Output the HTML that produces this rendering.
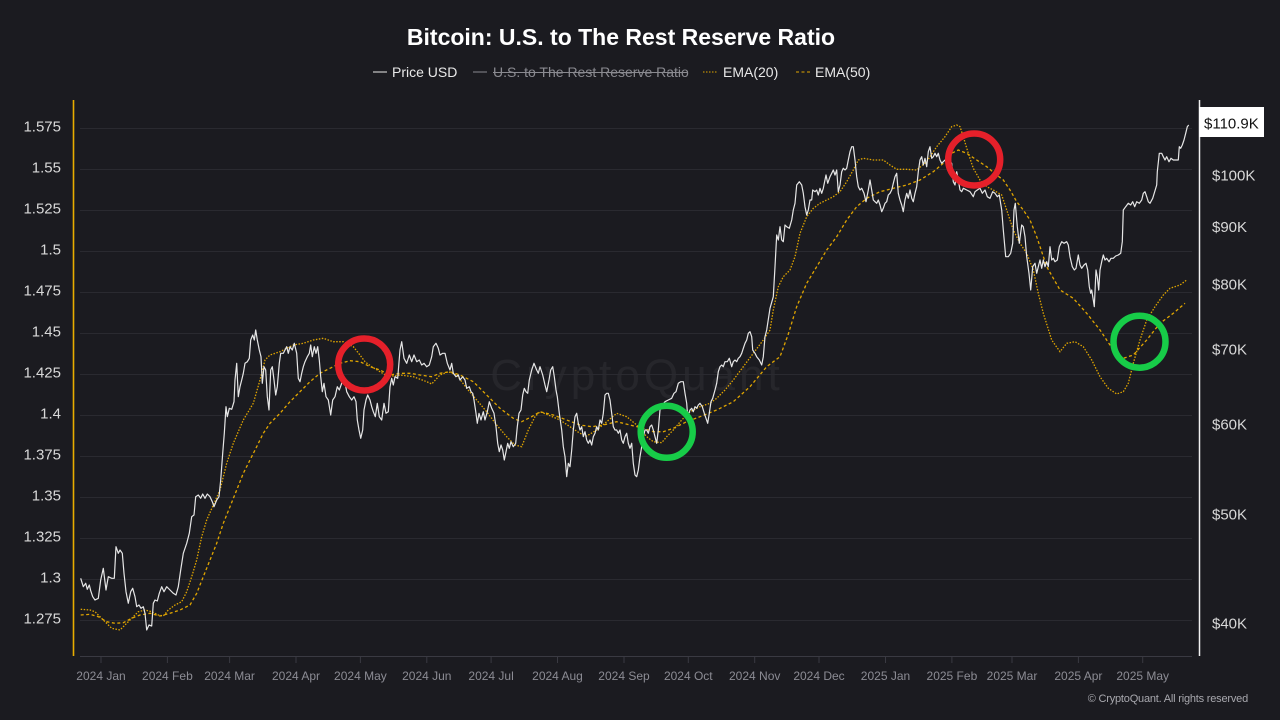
<!DOCTYPE html>
<html><head><meta charset="utf-8"><style>
html,body{margin:0;padding:0;background:#1b1b20;}
svg{display:block;font-family:"Liberation Sans",Arial,sans-serif;}
</style></head><body>
<svg width="1280" height="720" viewBox="0 0 1280 720" xmlns="http://www.w3.org/2000/svg">
<rect width="1280" height="720" fill="#1b1b20"/>
<!-- title -->
<text x="621" y="45" text-anchor="middle" font-size="23" font-weight="bold" fill="#ffffff">Bitcoin: U.S. to The Rest Reserve Ratio</text>
<!-- legend -->
<g font-size="14">
<line x1="373" y1="72" x2="387" y2="72" stroke="#e8e8e8" stroke-width="1"/>
<text x="392" y="77" fill="#e8e8e8">Price USD</text>
<line x1="473" y1="72" x2="487" y2="72" stroke="#8a8a90" stroke-width="1"/>
<text x="493" y="77" fill="#8a8a90">U.S. to The Rest Reserve Ratio</text>
<line x1="493" y1="72.5" x2="687" y2="72.5" stroke="#8a8a90" stroke-width="1"/>
<line x1="703" y1="72" x2="717" y2="72" stroke="#e0a500" stroke-width="1" stroke-dasharray="1.5,1.5"/>
<text x="723" y="77" fill="#e8e8e8">EMA(20)</text>
<line x1="796" y1="72" x2="810" y2="72" stroke="#e0a500" stroke-width="1" stroke-dasharray="3,2.5"/>
<text x="815" y="77" fill="#e8e8e8">EMA(50)</text>
</g>
<!-- watermark -->
<text x="637" y="390" text-anchor="middle" font-size="44" letter-spacing="4" fill="#ffffff" fill-opacity="0.05">CryptoQuant</text>
<!-- grid -->
<g stroke="#2a2a30" stroke-width="1">
<line x1="80" y1="128.5" x2="1192" y2="128.5"/>
<line x1="80" y1="169.5" x2="1192" y2="169.5"/>
<line x1="80" y1="210.5" x2="1192" y2="210.5"/>
<line x1="80" y1="251.5" x2="1192" y2="251.5"/>
<line x1="80" y1="292.5" x2="1192" y2="292.5"/>
<line x1="80" y1="333.5" x2="1192" y2="333.5"/>
<line x1="80" y1="374.5" x2="1192" y2="374.5"/>
<line x1="80" y1="415.5" x2="1192" y2="415.5"/>
<line x1="80" y1="456.5" x2="1192" y2="456.5"/>
<line x1="80" y1="497.5" x2="1192" y2="497.5"/>
<line x1="80" y1="538.5" x2="1192" y2="538.5"/>
<line x1="80" y1="579.5" x2="1192" y2="579.5"/>
<line x1="80" y1="620.5" x2="1192" y2="620.5"/>
</g>
<!-- left axis labels -->
<g font-size="15" fill="#d8d8d8" text-anchor="end">
<text x="61" y="131.5">1.575</text>
<text x="61" y="172.5">1.55</text>
<text x="61" y="213.5">1.525</text>
<text x="61" y="254.5">1.5</text>
<text x="61" y="295.5">1.475</text>
<text x="61" y="336.5">1.45</text>
<text x="61" y="377.5">1.425</text>
<text x="61" y="418.5">1.4</text>
<text x="61" y="459.5">1.375</text>
<text x="61" y="500.5">1.35</text>
<text x="61" y="541.5">1.325</text>
<text x="61" y="582.5">1.3</text>
<text x="61" y="623.5">1.275</text>
</g>
<!-- axes -->
<line x1="73.5" y1="100" x2="73.5" y2="656" stroke="#e8ad00" stroke-width="1.6"/>
<line x1="1199.5" y1="100" x2="1199.5" y2="656" stroke="#f0f0f0" stroke-width="1.5"/>
<line x1="80" y1="656.5" x2="1192" y2="656.5" stroke="#3a3a42" stroke-width="1"/>
<g stroke="#3a3a42" stroke-width="1">
<line x1="101" y1="656" x2="101" y2="663"/>
<line x1="167.4" y1="656" x2="167.4" y2="663"/>
<line x1="229.6" y1="656" x2="229.6" y2="663"/>
<line x1="296" y1="656" x2="296" y2="663"/>
<line x1="360.4" y1="656" x2="360.4" y2="663"/>
<line x1="426.8" y1="656" x2="426.8" y2="663"/>
<line x1="491.1" y1="656" x2="491.1" y2="663"/>
<line x1="557.5" y1="656" x2="557.5" y2="663"/>
<line x1="624" y1="656" x2="624" y2="663"/>
<line x1="688.3" y1="656" x2="688.3" y2="663"/>
<line x1="754.7" y1="656" x2="754.7" y2="663"/>
<line x1="819" y1="656" x2="819" y2="663"/>
<line x1="885.5" y1="656" x2="885.5" y2="663"/>
<line x1="951.9" y1="656" x2="951.9" y2="663"/>
<line x1="1012" y1="656" x2="1012" y2="663"/>
<line x1="1078.4" y1="656" x2="1078.4" y2="663"/>
<line x1="1142.7" y1="656" x2="1142.7" y2="663"/>
</g>
<g font-size="12" fill="#8c8c94" text-anchor="middle">
<text x="101" y="680">2024 Jan</text>
<text x="167.4" y="680">2024 Feb</text>
<text x="229.6" y="680">2024 Mar</text>
<text x="296" y="680">2024 Apr</text>
<text x="360.4" y="680">2024 May</text>
<text x="426.8" y="680">2024 Jun</text>
<text x="491.1" y="680">2024 Jul</text>
<text x="557.5" y="680">2024 Aug</text>
<text x="624" y="680">2024 Sep</text>
<text x="688.3" y="680">2024 Oct</text>
<text x="754.7" y="680">2024 Nov</text>
<text x="819" y="680">2024 Dec</text>
<text x="885.5" y="680">2025 Jan</text>
<text x="951.9" y="680">2025 Feb</text>
<text x="1012" y="680">2025 Mar</text>
<text x="1078.4" y="680">2025 Apr</text>
<text x="1142.7" y="680">2025 May</text>
</g>
<!-- right axis labels -->
<g font-size="15" fill="#d8d8d8">
<text x="1212" y="180.5">$100K</text>
<text x="1212" y="232">$90K</text>
<text x="1212" y="289.5">$80K</text>
<text x="1212" y="354.5">$70K</text>
<text x="1212" y="429.5">$60K</text>
<text x="1212" y="519.5">$50K</text>
<text x="1212" y="628.5">$40K</text>
</g>
<rect x="1199" y="107" width="65" height="30" fill="#ffffff"/>
<text x="1204" y="128.5" font-size="15" fill="#111111">$110.9K</text>
<!-- EMA50 -->
<polyline fill="none" stroke="#e0a500" stroke-width="1.3" stroke-dasharray="3,2.5" points="80.7,615 90,614.3 98.3,616.7 106.7,621.7 115,623.3 123.3,622.7 131.7,618.3 140,615 150,613.3 160,616 170,613.3 180,610 190,605 196.7,593.3 203.3,576.7 210,560 216.7,543.3 223.3,523.3 230,506.7 236.7,490 243.3,473.3 250,460 256.7,446.7 263.3,433.3 270,423.3 280,413.3 290,401.7 300,391.7 310,381.7 320,373.3 330,368.3 340,363.3 350,360.7 360,361.7 370,366.7 380,370 390,375 400,373.3 410,373.3 420,375 431.7,376.7 440,373.3 450,371.7 460,375 473.3,381.7 486.7,395 500,408.3 513.3,418.3 521.7,421.7 531.7,416.7 540,411.7 553.3,415 566.7,420 580,425 591.7,426.7 603.3,425 616.7,421.7 630,425 643.3,428.3 653.3,431.7 663.3,431.7 673.3,428.3 686.7,421.7 700,416.7 716.7,410 733.3,401.7 750,386.7 766.7,366.7 780,356.7 788,335 796.7,306.7 806.7,283.3 816.7,266.7 826.7,250 836.7,236.7 846.7,220 856.7,206.7 866.7,198.3 880,191.7 893.3,188.3 906.7,185 920,180 933.3,171.7 943.3,163.3 951.7,153.3 958.3,150 966.7,153.3 976.7,160 986.7,166.7 996.7,175 1003.3,180 1010,190 1016.7,201.7 1023.3,210 1030,220 1036.7,236.7 1046.7,266.7 1060,290 1073.3,298.3 1086.7,313.3 1100,330 1113.3,350 1123.3,358.3 1133.3,355 1146.7,340 1160,323.3 1173.3,313.3 1185,303.3"/>
<!-- EMA20 -->
<polyline fill="none" stroke="#e0a500" stroke-width="1.3" stroke-dasharray="1.5,1.5" points="80.7,609.3 90,610 95,611.7 103.3,620 111.7,628.3 120,630 125,625 131.7,618.3 138.3,611.7 145,610 151.7,611.7 158.3,615 163.3,616 168.3,610 175,605 181.7,601.7 186.7,591.7 191.7,576.7 196.7,560 201.7,536.7 206.7,520 213.3,505 220,490 226.7,463.3 233.3,443.3 243.3,420 253.3,403.3 260,380 265,360 270,355 280,351.7 293.3,345 303.3,343.3 313.3,340 323.3,338.3 333.3,341.7 343.3,341.7 353.3,346.7 360,355 365,361.7 371.7,366.7 380,371.7 388.3,376.7 400,375 413.3,376.7 426.7,381.7 431.7,384 440,375 448.3,371.7 456.7,375 466.7,388.3 476.7,400 486.7,411.7 496.7,425 506.7,436.7 515,445 521.7,446.7 528.3,430 535,416.7 540,411.7 548.3,415 560,420 570,426.7 580,433.3 586.7,436 596.7,430 606.7,421.7 616.7,413.3 626.7,416.7 636.7,425 646.7,436.7 653.3,441.7 661.7,442.7 666.7,436.7 673.3,430 681.7,420 690,411.7 700,406.7 710,403.3 716.7,398.3 725,390 733.3,380 743.3,366.7 753.3,353.3 763.3,340 770,330 773.3,310 778.3,286.7 783.3,276.7 790,270 795,256.7 800,233.3 806.7,216.7 813.3,208.3 820,203.3 826.7,200 833.3,196.7 840,191.7 846.7,181.7 853.3,170 858.3,160 863.3,158.3 873.3,160 883.3,160 890,165 896.7,169.3 906.7,169.3 916.7,170 926.7,161.7 936.7,146.7 945,136.7 951.7,126.7 956.7,125 960,126.7 963.3,136.7 968.3,153.3 973.3,168.3 980,180 986.7,186.7 993.3,190 1001.7,195 1006.7,210 1013.3,230 1020,243.3 1026.7,253.3 1033.3,270 1038.3,293.3 1043.3,313.3 1051.7,340 1060,351.7 1066.7,343.3 1075,341.7 1083.3,346.7 1091.7,360 1100,376.7 1108.3,388.3 1116.7,394 1123.3,391.7 1128.3,383.3 1133.3,363.3 1140,340 1146.7,320 1155,306.7 1163.3,295 1170,288.3 1180,285 1186.7,280"/>
<!-- Price -->
<polyline fill="none" stroke="#e6e6e6" stroke-width="1.2" stroke-linejoin="round" points="80.7,578.3 83.3,586.7 85.7,583.3 87.3,589.3 89.3,585 90.7,590.7 92.7,596.7 95,600 98.3,598.3 100.7,580 103.3,568.3 106,590 108.3,576.7 111.7,578.3 114.3,578.3 116,546.7 118.3,553.3 120,550 122.3,553.3 124,573.3 126,591.7 128.3,603.3 130.7,591.7 132.7,588.3 135,596.7 136.7,606.7 139,605 141,608.3 143.3,606.7 145,613.3 146.7,630 149,625 151.7,626 153.3,603.3 155,600 157.3,601 159.3,593.3 161.7,586.7 164,591.7 166.7,586.7 170,590 173.3,593.3 176,595 178.3,586.7 180.7,570 183.3,553.3 186.7,543.3 189.3,533.3 191.7,516.7 194,515 195.7,496.7 198.3,495 200.7,498.3 202.7,494 205,498.3 207.3,494 210,496.7 212.3,501.7 214,506.7 216.7,500 219,496.7 220.7,480 222.7,453.3 224.3,433.3 226,406.7 227.3,416.7 229.3,408.3 231.7,409.3 234,401.7 235,380 236.7,363.3 238.3,396.7 240,386.7 241.7,380 243.3,373.3 245,363.3 247.3,361.7 249.3,358.3 250.7,340 252.7,335 254.3,340 255.7,330 257.3,340 259.3,350 261,356.7 262.3,383.3 264,366.7 265.7,370 267.3,396.7 269,410 270.7,370 272.3,366.7 274,380 275.7,395 277.3,386.7 279.3,363.3 280.7,353.3 283.3,353.3 285,350 286.7,346.7 288.3,353.3 290,346.7 292.3,350 294.3,343.3 296.7,353.3 298.3,378.3 300,381.7 301.7,373.3 303.3,366.7 305,361.7 307.3,356.7 309.3,353.3 310.7,345 312.3,356.7 314.3,346.7 316,353.3 317.7,346.7 319.3,360 320.7,376.7 322.3,391.7 324,383.3 326,396.7 328.3,400 330.7,415 332.7,400 335,396.7 337.3,386.7 339.3,390 341.7,383.3 344,376.7 346.7,391.7 349.3,396.7 351.7,400 354,396.7 356,401.7 357.3,420 359,430 360.7,438.3 362.7,430 364,410 366,400 367.7,395 370,400 371.7,406.7 373.3,411.7 375.3,416.7 377.3,403.3 379.3,416.7 381.7,420 384,403.3 386,413.3 388.3,411.7 390,386.7 391.7,378.3 393.3,385 395,376.7 397.7,378.3 400,350 401.7,341.7 404,358.3 406.7,363.3 409.3,355 411.7,361.7 414,355 416.7,361.7 419.3,360 421.7,365 424,363.3 426.7,366.7 429.3,365 431.7,356.7 433.3,346.7 436,343.3 438.3,348.3 440,355 442.7,353.3 445,353.3 447.3,363.3 450,370 451.7,363.3 453.3,373.3 456,376.7 458.3,375 460,380 462.7,376.7 465,380 466.7,388.3 469.3,386.7 471,391.7 472.7,393.3 474,400 476,413.3 477.3,423.3 479,413.3 481,420 483.3,411.7 485,420 487.3,411.7 489.3,401.7 491.7,408.3 494,413.3 496,426.7 497.7,443.3 499.3,451.7 501,445 502.7,450 504.3,460 506,451.7 507.7,443.3 509.3,448.3 511,441.7 513.3,446.7 515.7,443.3 517.3,426.7 519,413.3 521,410 522.7,395 524.3,388.3 526,391.7 527.7,393.3 529.3,380 531.7,370 534,363.3 536.7,370 538.3,373.3 540,366.7 542.7,375 545,385 546.7,391.7 549,380 550.7,370 552.7,366.7 554.3,376.7 556,390 557.3,396.7 559.3,413.3 561.7,430 563.3,446.7 565,456.7 566.7,476.7 568.3,463.3 570,466.7 571.7,450 573.3,430 575,416.7 576.7,413.3 578.3,423.3 580,430 581.7,426.7 583.3,436.7 585,431.7 586.7,440 588.3,443.3 590,440 591.7,445 593.3,436.7 595,433.3 596.7,426.7 598.3,430 600,420 601.7,423.3 603.3,413.3 605,395 606.7,393.3 608.3,393.3 610,400 611.7,413.3 613.3,426.7 615,430 616.7,430 618.3,433.3 620,430 621.7,440 623.3,443.3 625,436.7 626.7,433.3 628.3,443.3 630,448.3 631.7,443.3 633.3,463.3 635,475 636.7,476.7 638.3,470 640,456.7 641.7,446.7 643.3,436.7 645,430 646.7,430 648.3,433.3 650,426.7 651.7,425 653.3,430 655,436.7 656.7,443.3 658.3,430 660,410 662.3,405 665,401.7 668.3,400 671.7,398.3 674,393.3 676,391.7 678.3,383.3 680.7,381.7 683.3,381.7 685,393.3 686.7,403.3 687.7,416.7 690,410 691.7,408.3 693.3,411.7 695,406.7 696.7,408.3 698.3,405 700,403.3 702.3,406.7 704.3,413.3 706,418.3 707.7,423.3 709.3,413.3 711,401.7 712.7,398.3 715,390 716.7,383.3 718.3,371.7 720,366.7 721.7,365 723.3,366.7 725,361.7 727.3,361.7 729.3,358.3 731.7,366.7 733.3,361.7 735,360 736.7,361.7 738.3,358.3 740,356.7 741.7,353.3 743.3,348.3 745,343.3 746.7,340 748.3,333.3 750,331.7 751.7,336.7 752.7,350 755,353.3 756.7,356.7 759.3,360 761.7,365 763.3,356.7 765,336.7 766.7,330 770,308.3 773.3,296.7 775,266.7 776.7,235 778.3,240 780,226.7 781.7,240 783.3,241.7 785,225 786.7,226.7 789.3,228.3 791.7,220 793.3,210 795,203.3 796.7,185 799.3,181.7 801.7,185 803.3,193.3 805,206.7 806.7,215 808.3,210 810,200 811.7,200 812.7,190 815,191.7 816.7,190 818.3,195 820,188.3 821.7,193.3 823.3,188.3 826,175 827.7,183.3 830,176.7 831.7,173.3 833.3,170 835,175 836.7,170 838.3,191.7 840,185 841.7,171.7 843.3,168.3 845,170 846.7,168.3 848.3,160 850,151.7 851.7,146.7 853.3,146.7 855,160 856.7,176.7 858.3,186.7 860,190 861.7,188.3 864,193.3 866,201.7 868.3,190 870,180 871.7,190 873.3,200 875,201.7 876.7,203.3 878.3,200 880,205 881.7,211.7 883.3,208.3 885,203.3 886.7,201.7 888.3,195 890,193.3 891.7,190 893.3,183.3 895,176.7 896.7,173.3 898.3,193.3 900,200 901.7,205 903.3,211.7 905,200 906.7,193.3 908.3,198.3 910,190 911.7,198.3 913.3,201.7 915,193.3 916.7,186.7 918.3,171.7 920,160 921.7,156.7 923.3,165 925,158.3 926.7,166.7 928.3,151.7 930,146.7 931.7,158.3 933.3,156.7 935,153.3 936.7,156.7 938.3,153.3 940,160 941.7,163.3 943.3,161.7 945,160 946.7,163.3 948.3,165 950,161.7 951.7,163.3 953.3,181.7 955,185 956.7,171.7 958.3,180 960,190 961.7,191.7 963.3,188.3 966.7,190 970,191.7 973.3,196.7 975,191.7 977.3,190 980,188.3 982.3,193.3 985,190 987.3,196.7 990,198.3 992.7,191.7 995,193.3 997.3,196.7 999.3,195 1001.7,210 1003.3,230 1005.7,256.7 1008.3,256.7 1010.7,253.3 1012.7,243.3 1014,210 1015.3,203.3 1017.3,226.7 1019.3,243.3 1021.7,225 1023.3,226.7 1025,236.7 1026.7,256.7 1029,273.3 1030.7,290 1032.7,266.7 1035,263.3 1036.7,273.3 1038.3,266.7 1040,260 1041.7,268.3 1043.3,260 1045,266.7 1046.7,261.7 1048.3,266.7 1050,246.7 1051.7,260 1053.3,258.3 1055,261.7 1057.3,260 1059.3,246.7 1061.7,241.7 1064,243.3 1066.7,241.7 1068.3,245 1070,256.7 1072.3,266.7 1074.3,270 1076,268.3 1078.3,255 1080,265 1081.7,268.3 1084,265 1086,263.3 1087.7,270 1089.3,286.7 1090.7,293.3 1091.7,290 1093.3,300 1094.3,306.7 1096,270 1097.3,276.7 1098.7,290 1100,270 1101.7,261.7 1103.3,255 1105,260 1106.7,258.3 1109,261.7 1111,258.3 1113.3,258.3 1115.7,256 1118.3,255 1120.7,253.3 1122.3,241.7 1123.3,210 1125.7,206.7 1128.3,203.3 1130.7,205 1132.7,201.7 1134.7,206.7 1136.7,201.7 1139.3,203.3 1141.7,200 1143.3,193.3 1145,191.7 1146.7,196.7 1148.3,201.7 1150,203.3 1152.7,198.3 1154.7,191.7 1156.7,185 1157.3,171.7 1159.3,153.3 1161.7,153.3 1163.3,156.7 1165,160 1166.7,156.7 1169,161.7 1171,158.3 1173.3,160 1176,160 1178.3,160 1179.3,146.7 1180.7,148.3 1182.3,145 1184,140 1185.7,133.3 1187.3,126.7 1188.7,125"/>
<!-- circles -->
<circle cx="364.2" cy="364.5" r="26" fill="none" stroke="#e5202a" stroke-width="6.5"/>
<circle cx="974.2" cy="159.5" r="26" fill="none" stroke="#e5202a" stroke-width="6.5"/>
<circle cx="666.7" cy="431.8" r="26" fill="none" stroke="#17cc48" stroke-width="6.5"/>
<circle cx="1139.5" cy="341.7" r="26" fill="none" stroke="#17cc48" stroke-width="6.5"/>
<!-- copyright -->
<text x="1248" y="702" text-anchor="end" font-size="11" fill="#a8a8ae" letter-spacing="-0.2">© CryptoQuant. All rights reserved</text>
</svg>
</body></html>
